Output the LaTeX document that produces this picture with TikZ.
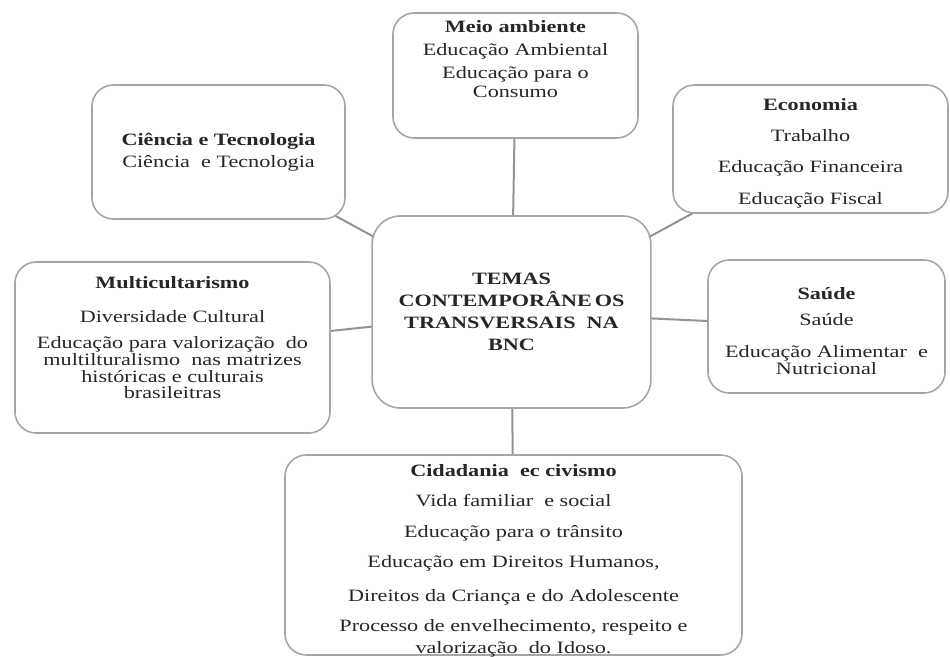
\documentclass[tikz,border=0pt]{standalone}
\usepackage{fontspec}
\setmainfont{Liberation Serif}[FakeStretch=1.28]
\usepackage{tikz}
\usetikzlibrary{backgrounds}

\begin{document}
\begin{tikzpicture}[x=0.75pt,y=-0.75pt,
	caixa/.style={draw=gray!70,line width=1.2pt,rounded corners=16pt,fill=white,align=center,inner sep=2pt,text=black!85,font=\fontsize{13}{14}\selectfont},
	elo/.style={draw=gray!85,line width=1.5pt}]
\useasboundingbox (0,0) rectangle (950,657);
		\node[caixa,rounded corners=21pt,minimum width=209pt,minimum height=144pt,font=\bfseries\fontsize{13}{14}\selectfont] (T) at (511.5,312) {TEMAS\\[2.5pt]CONTEMPORÂNE\,OS\\[2.5pt]TRANSVERSAIS~ NA\\[2.5pt]BNC};
		\node[caixa,minimum width=183.8pt,minimum height=93.8pt] (M) at (515.5,75.5) {\textbf{Meio ambiente}\\[3.2pt]Educação Ambiental\\[3.9pt]Educação para o\\Consumo\\[11pt]\mbox{}};
		\node[caixa,minimum width=189.8pt,minimum height=100.5pt] (C) at (218.5,152) {\textbf{Ciência e Tecnologia}\\[2.5pt]Ciência~ e Tecnologia};
		\node[caixa,minimum width=206.3pt,minimum height=96pt] (E) at (810.5,149) {\mbox{}\\[1pt]\textbf{Economia}\\[9.5pt]Trabalho\\[9.5pt]Educação Financeira\\[9.5pt]Educação Fiscal};
		\node[caixa,minimum width=236.3pt,minimum height=128.3pt] (U) at (172.5,347.5) {\textbf{Multicultarismo}\\[11.5pt]Diversidade Cultural\\[5.5pt]Educação para valorização~ do\\[-1.3pt]multilturalismo~ nas matrizes\\[-1.3pt]históricas e culturais\\[-2pt]brasileitras\\[1pt]\mbox{}};
		\node[caixa,minimum width=177.8pt,minimum height=99.8pt] (S) at (826.5,326.5) {\mbox{}\\[2pt]\textbf{Saúde}\\[5.2pt]Saúde\\[10pt]Educação Alimentar~ e\\[-1pt]Nutricional};
		\node[caixa,inner ysep=0pt,minimum width=342.8pt,minimum height=150pt] (V) at (513.5,555) {\mbox{}\\[1pt]\textbf{Cidadania~ ec civismo}\\[8.5pt]Vida familiar~ e social\\[9.25pt]Educação para o trânsito\\[8.5pt]Educação em Direitos Humanos,\\[11.5pt]Direitos da Criança e do Adolescente\\[8.5pt]Processo de envelhecimento, respeito e\\[2.5pt]\smash{valorização~ do Idoso.}};
\begin{scope}[on background layer]
		\draw[elo] (T.center) -- (M.center);
		\draw[elo] (T.center) -- (C.center);
		\draw[elo] (T.center) -- (E.center);
		\draw[elo] (T.center) -- (U.center);
		\draw[elo] (T.center) -- (S.center);
		\draw[elo] (T.center) -- (V.center);
\end{scope}
\end{tikzpicture}
\end{document}
